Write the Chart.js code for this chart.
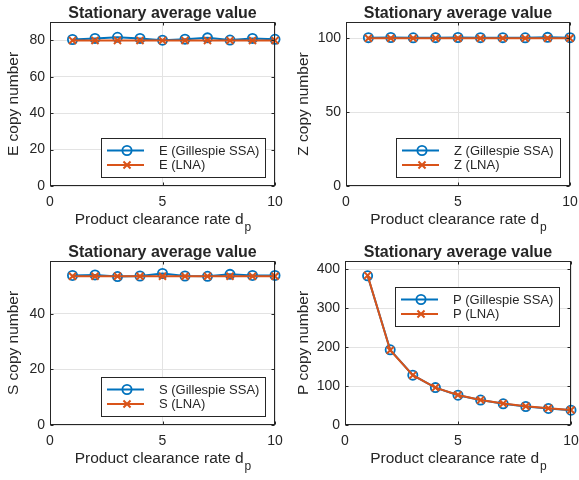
<!DOCTYPE html>
<html>
<head>
<meta charset="utf-8">
<script src="https://cdn.jsdelivr.net/npm/chart.js@4/dist/chart.umd.min.js"></script>
<style>
  body { margin: 0; background: #fff; }
  #wrap { position: relative; width: 579px; height: 480px; }
  canvas { position: absolute; }
</style>
</head>
<body>
<div id="wrap">
  <canvas id="cE" width="290" height="240" style="left:0;top:0"></canvas>
  <canvas id="cZ" width="289" height="240" style="left:290px;top:0"></canvas>
  <canvas id="cS" width="290" height="240" style="left:0;top:240px"></canvas>
  <canvas id="cP" width="289" height="240" style="left:290px;top:240px"></canvas>
</div>
<script>
// product clearance rate d_p
const dpValues = [1, 2, 3, 4, 5, 6, 7, 8, 9, 10];

// stationary averages
const eSsa = [80.4, 81.0, 81.6, 81.0, 80.0, 80.6, 81.3, 80.1, 81.0, 80.5];
const eLna = [79.9, 79.9, 79.9, 79.9, 79.9, 79.9, 79.9, 79.9, 79.9, 79.9];
const zSsa = [100.4, 100.5, 100.3, 100.4, 100.5, 100.4, 100.4, 100.3, 100.6, 100.4];
const zLna = [100, 100, 100, 100, 100, 100, 100, 100, 100, 100];
const sSsa = [53.8, 54.0, 53.4, 53.6, 54.5, 53.6, 53.5, 54.2, 53.8, 53.8];
const sLna = [53.5, 53.5, 53.5, 53.5, 53.5, 53.5, 53.5, 53.5, 53.5, 53.5];
const pSsa = [383, 193, 128, 96, 76.5, 64, 54.5, 47.5, 42.5, 38];
const pLna = [384, 192, 128, 96, 77, 64, 55, 48, 43, 38.4];

const titleText = 'Stationary average value';
const xLabelText = 'Product clearance rate d';
const xLabelSub = 'p';

const BLUE = '#0072BD';
const ORANGE = '#D95319';
const INK = '#262626';
const FONT = '"Liberation Sans", Arial, sans-serif';

Chart.defaults.font.family = FONT;
Chart.defaults.color = INK;

const toXY = arr => arr.map((v, i) => ({ x: dpValues[i], y: v }));

// draws the matlab-ish axes box, ticks, labels and legend
const subplotPlugin = {
  id: 'subplot',
  afterDraw(chart, args, opts) {
    const { ctx, chartArea: a, scales: { x, y } } = chart;
    const L = Math.round(a.left) + 0.5, R = Math.round(a.right) - 0.5;
    const T = Math.round(a.top) + 0.5, B = Math.round(a.bottom) - 0.5;
    ctx.save();
    ctx.strokeStyle = INK;
    ctx.lineWidth = 1;
    ctx.beginPath();
    x.ticks.forEach(t => {
      const px = Math.round(x.getPixelForValue(t.value)) + 0.5;
      ctx.moveTo(px, B); ctx.lineTo(px, B - 3);
      ctx.moveTo(px, T); ctx.lineTo(px, T + 3);
    });
    y.ticks.forEach(t => {
      const py = Math.round(y.getPixelForValue(t.value)) + 0.5;
      ctx.moveTo(L, py); ctx.lineTo(L + 3, py);
      ctx.moveTo(R, py); ctx.lineTo(R - 3, py);
    });
    ctx.stroke();
    ctx.strokeRect(L, T, R - L, B - T);

    const cx = (a.left + a.right) / 2;
    ctx.fillStyle = INK;
    ctx.textAlign = 'center';
    ctx.textBaseline = 'alphabetic';
    ctx.font = 'bold 16px ' + FONT;
    ctx.fillText(titleText, cx, a.top - 4.5);

    // x label with subscript
    ctx.font = '15.5px ' + FONT;
    const w1 = ctx.measureText(xLabelText).width;
    ctx.font = '12px ' + FONT;
    const w2 = ctx.measureText(xLabelSub).width;
    const sx = cx - (w1 + w2) / 2;
    ctx.textAlign = 'left';
    ctx.font = '15.5px ' + FONT;
    ctx.fillText(xLabelText, sx, a.bottom + 38);
    ctx.font = '12px ' + FONT;
    ctx.fillText(xLabelSub, sx + w1 + 1, a.bottom + 45);

    // y label
    ctx.save();
    ctx.translate(14, (a.top + a.bottom) / 2);
    ctx.rotate(-Math.PI / 2);
    ctx.textAlign = 'center';
    ctx.textBaseline = 'middle';
    ctx.font = '15.5px ' + FONT;
    ctx.fillText(opts.yLabel, 0, 0);
    ctx.restore();

    // legend inside the axes
    const sets = chart.data.datasets;
    ctx.font = '13px ' + FONT;
    const tw = Math.max(...sets.map(d => ctx.measureText(d.label).width));
    const bw = Math.round(58 + tw + 6), bh = 39;
    let bx, by;
    if (opts.legendAt === 'ne') {
      bx = Math.round(a.right - 12 - bw); by = Math.round(a.top + 26);
    } else {
      bx = Math.round(a.right - 10 - bw); by = Math.round(a.bottom - 9 - bh);
    }
    ctx.fillStyle = '#fff';
    ctx.fillRect(bx, by, bw, bh);
    ctx.strokeStyle = INK;
    ctx.lineWidth = 1;
    ctx.strokeRect(bx + 0.5, by + 0.5, bw, bh);
    sets.forEach((d, i) => {
      const ly = by + 12.5 + i * 14.5;
      ctx.strokeStyle = d.borderColor;
      ctx.lineWidth = 2;
      ctx.beginPath();
      ctx.moveTo(bx + 6, ly); ctx.lineTo(bx + 43, ly);
      ctx.stroke();
      const mx = bx + 26;
      ctx.lineWidth = d.pointBorderWidth;
      ctx.beginPath();
      if (d.pointStyle === 'circle') {
        ctx.arc(mx, ly, d.pointRadius, 0, Math.PI * 2);
      } else {
        const r = d.pointRadius * Math.SQRT1_2;
        ctx.moveTo(mx - r, ly - r); ctx.lineTo(mx + r, ly + r);
        ctx.moveTo(mx - r, ly + r); ctx.lineTo(mx + r, ly - r);
      }
      ctx.stroke();
      ctx.fillStyle = INK;
      ctx.textAlign = 'left';
      ctx.textBaseline = 'middle';
      ctx.fillText(d.label, bx + 58, ly + 0.5);
    });
    ctx.restore();
  }
};

function makeSubplot(id, name, ssa, lna, yMax, yStep, box, legendAt) {
  return new Chart(document.getElementById(id), {
    type: 'line',
    data: {
      datasets: [
        {
          label: name + ' (Gillespie SSA)',
          data: toXY(ssa),
          order: 1,
          borderColor: BLUE,
          backgroundColor: 'rgba(0,0,0,0)',
          borderWidth: 2,
          pointStyle: 'circle',
          pointRadius: 4.6,
          pointBorderWidth: 1.8,
          pointBackgroundColor: 'rgba(0,0,0,0)',
          pointBorderColor: BLUE,
          clip: false
        },
        {
          label: name + ' (LNA)',
          data: toXY(lna),
          order: 0, // orange drawn on top, like the figure
          borderColor: ORANGE,
          backgroundColor: 'rgba(0,0,0,0)',
          borderWidth: 2,
          pointStyle: 'crossRot',
          pointRadius: 5,
          pointBorderWidth: 2,
          pointBorderColor: ORANGE,
          clip: false
        }
      ]
    },
    options: {
      responsive: false,
      animation: false,
      events: [],
      layout: { padding: { left: 0, top: box.top, right: box.right, bottom: 0 } },
      plugins: {
        legend: { display: false },
        tooltip: { enabled: false },
        subplot: { yLabel: name + ' copy number', legendAt: legendAt }
      },
      scales: {
        x: {
          type: 'linear',
          min: 0, max: 10,
          border: { display: false },
          grid: { color: '#e3e3e3', drawTicks: false },
          ticks: { stepSize: 5, padding: 8, font: { size: 14 }, color: INK, maxRotation: 0 },
          afterFit(s) { s.height = box.xh; s.paddingLeft = 0; s.paddingRight = 0; }
        },
        y: {
          min: 0, max: yMax,
          border: { display: false },
          grid: { color: '#e3e3e3', drawTicks: false },
          ticks: { stepSize: yStep, includeBounds: false, padding: 5, font: { size: 14 }, color: INK },
          afterFit(s) { s.width = box.yw; s.paddingTop = 0; s.paddingBottom = 0; }
        }
      }
    },
    plugins: [subplotPlugin]
  });
}

makeSubplot('cE', 'E', eSsa, eLna, 90, 20, { top: 22, right: 15, xh: 54, yw: 50 }, 'se');
makeSubplot('cZ', 'Z', zSsa, zLna, 111, 50, { top: 22, right: 9, xh: 54, yw: 56 }, 'se');
makeSubplot('cS', 'S', sSsa, sLna, 59, 20, { top: 21, right: 15, xh: 55, yw: 50 }, 'se');
makeSubplot('cP', 'P', pSsa, pLna, 421, 100, { top: 21, right: 8, xh: 55, yw: 55 }, 'ne');
</script>
</body>
</html>
